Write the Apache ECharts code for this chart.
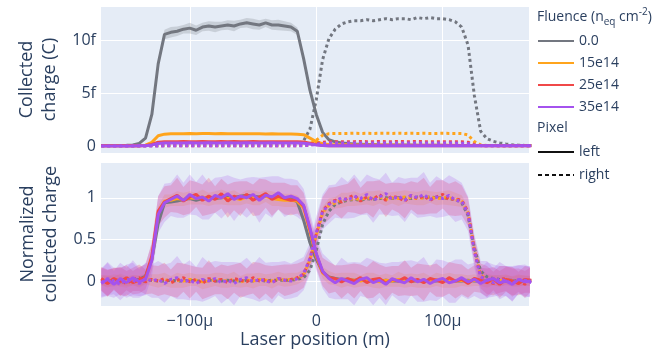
<!DOCTYPE html>
<html>
<head>
<meta charset="utf-8">
<script src="https://cdn.jsdelivr.net/npm/echarts@6/dist/echarts.min.js"></script>
<style>
  html, body { margin: 0; padding: 0; background: #fff; }
  #chart { width: 672px; height: 350px; }
</style>
</head>
<body>
<div id="chart"></div>
<script>
// laser position (um)
var xPos = [
  -170, -165, -160, -155, -150, -145, -140, -135, -130, -125,
  -120, -115, -110, -105, -100, -95, -90, -85, -80, -75,
  -70, -65, -60, -55, -50, -45, -40, -35, -30, -25,
  -20, -15, -10, -5, 0, 5, 10, 15, 20, 25,
  30, 35, 40, 45, 50, 55, 60, 65, 70, 75,
  80, 85, 90, 95, 100, 105, 110, 115, 120, 125,
  130, 135, 140, 145, 150, 155, 160, 165, 170
];

// collected charge (fC), top panel
var qGrayL = [
  0.05, 0.05, 0.06, 0.05, 0.07, 0.10, 0.25, 0.75, 3.0, 7.8,
  10.6, 10.8, 10.9, 11.1, 11.2, 11.0, 11.3, 11.4, 11.3, 11.4,
  11.5, 11.4, 11.6, 11.7, 11.6, 11.5, 11.7, 11.5, 11.5, 11.4,
  11.3, 10.9, 8.3, 5.3, 3.0, 1.3, 0.6, 0.4, 0.3, 0.25,
  0.2, 0.18, 0.15, 0.14, 0.12, 0.11, 0.1, 0.1, 0.09, 0.09,
  0.08, 0.08, 0.07, 0.07, 0.07, 0.06, 0.06, 0.06, 0.06, 0.05,
  0.05, 0.05, 0.05, 0.05, 0.05, 0.05, 0.05, 0.05, 0.05
];
var qGrayLSd = [
  0.03, 0.03, 0.03, 0.03, 0.04, 0.05, 0.1, 0.15, 0.3, 0.4,
  0.45, 0.5, 0.45, 0.4, 0.5, 0.45, 0.4, 0.45, 0.5, 0.4,
  0.45, 0.5, 0.4, 0.45, 0.5, 0.45, 0.4, 0.45, 0.5, 0.45,
  0.4, 0.35, 0.3, 0.25, 0.2, 0.1, 0.06, 0.05, 0.04, 0.04,
  0.03, 0.03, 0.03, 0.03, 0.03, 0.03, 0.03, 0.03, 0.03, 0.03,
  0.03, 0.03, 0.03, 0.03, 0.03, 0.03, 0.03, 0.03, 0.03, 0.03,
  0.03, 0.03, 0.03, 0.03, 0.03, 0.03, 0.03, 0.03, 0.03
];
var qGrayR = [
  0.05, 0.05, 0.05, 0.05, 0.05, 0.05, 0.05, 0.05, 0.05, 0.05,
  0.05, 0.05, 0.05, 0.05, 0.05, 0.05, 0.05, 0.05, 0.05, 0.05,
  0.05, 0.05, 0.06, 0.06, 0.06, 0.07, 0.07, 0.08, 0.09, 0.1,
  0.12, 0.15, 0.5, 1.6, 4.4, 8.2, 10.2, 11.1, 11.6, 11.8,
  11.9, 11.9, 12.0, 11.9, 12.0, 12.1, 12.0, 12.1, 12.1, 12.0,
  12.2, 12.1, 12.2, 12.1, 12.1, 12.0, 11.8, 11.3, 9.6, 4.8,
  1.4, 0.7, 0.45, 0.3, 0.2, 0.12, 0.08, 0.06, 0.05
];
var qOrangeL = [
  0.02, 0.02, 0.03, 0.02, 0.02, 0.03, 0.04, 0.08, 0.35, 0.98,
  1.13, 1.16, 1.17, 1.17, 1.18, 1.17, 1.18, 1.18, 1.17, 1.18,
  1.17, 1.17, 1.16, 1.17, 1.16, 1.16, 1.15, 1.16, 1.15, 1.15,
  1.14, 1.13, 1.08, 0.75, 0.42, 0.22, 0.15, 0.13, 0.12, 0.12,
  0.11, 0.11, 0.1, 0.1, 0.1, 0.09, 0.09, 0.09, 0.08, 0.08,
  0.08, 0.08, 0.07, 0.07, 0.07, 0.07, 0.07, 0.06, 0.06, 0.06,
  0.05, 0.05, 0.05, 0.05, 0.05, 0.05, 0.05, 0.05, 0.05
];
var qOrangeR = [
  0.03, 0.03, 0.03, 0.03, 0.03, 0.03, 0.03, 0.04, 0.06, 0.08,
  0.08, 0.08, 0.08, 0.08, 0.08, 0.08, 0.08, 0.08, 0.08, 0.08,
  0.08, 0.08, 0.08, 0.08, 0.08, 0.08, 0.08, 0.08, 0.08, 0.09,
  0.09, 0.1, 0.12, 0.22, 0.55, 1.02, 1.17, 1.19, 1.2, 1.2,
  1.21, 1.2, 1.21, 1.2, 1.21, 1.21, 1.2, 1.21, 1.2, 1.21,
  1.2, 1.21, 1.2, 1.2, 1.21, 1.2, 1.2, 1.19, 1.05, 0.42,
  0.12, 0.06, 0.05, 0.04, 0.04, 0.03, 0.03, 0.03, 0.03
];
var qRedL = [
  0.02, 0.02, 0.02, 0.02, 0.02, 0.02, 0.03, 0.05, 0.15, 0.36,
  0.41, 0.42, 0.42, 0.43, 0.42, 0.42, 0.43, 0.42, 0.42, 0.43,
  0.42, 0.43, 0.42, 0.42, 0.43, 0.42, 0.42, 0.42, 0.42, 0.41,
  0.41, 0.41, 0.39, 0.27, 0.14, 0.06, 0.04, 0.03, 0.03, 0.03,
  0.03, 0.03, 0.03, 0.03, 0.03, 0.03, 0.03, 0.03, 0.03, 0.03,
  0.03, 0.03, 0.03, 0.03, 0.03, 0.03, 0.03, 0.03, 0.03, 0.03,
  0.02, 0.02, 0.02, 0.02, 0.02, 0.02, 0.02, 0.02, 0.02
];
var qRedR = [
  0.02, 0.02, 0.02, 0.02, 0.02, 0.02, 0.02, 0.02, 0.02, 0.02,
  0.03, 0.03, 0.03, 0.03, 0.03, 0.03, 0.03, 0.03, 0.03, 0.03,
  0.03, 0.03, 0.03, 0.03, 0.03, 0.03, 0.03, 0.03, 0.03, 0.03,
  0.03, 0.04, 0.05, 0.1, 0.22, 0.37, 0.41, 0.42, 0.42, 0.42,
  0.42, 0.43, 0.42, 0.42, 0.43, 0.42, 0.42, 0.43, 0.42, 0.42,
  0.43, 0.42, 0.42, 0.42, 0.42, 0.42, 0.41, 0.41, 0.36, 0.15,
  0.05, 0.03, 0.02, 0.02, 0.02, 0.02, 0.02, 0.02, 0.02
];
var qPurpleL = [
  0.01, 0.01, 0.01, 0.01, 0.01, 0.01, 0.02, 0.03, 0.1, 0.25,
  0.29, 0.3, 0.3, 0.3, 0.31, 0.3, 0.3, 0.31, 0.3, 0.3,
  0.31, 0.3, 0.3, 0.31, 0.3, 0.3, 0.3, 0.31, 0.3, 0.3,
  0.3, 0.29, 0.27, 0.19, 0.1, 0.05, 0.03, 0.03, 0.03, 0.03,
  0.03, 0.03, 0.03, 0.03, 0.03, 0.03, 0.03, 0.03, 0.03, 0.03,
  0.03, 0.03, 0.03, 0.03, 0.03, 0.03, 0.03, 0.03, 0.03, 0.03,
  0.02, 0.02, 0.02, 0.02, 0.02, 0.02, 0.02, 0.02, 0.02
];
var qPurpleR = [
  0.01, 0.01, 0.01, 0.01, 0.01, 0.01, 0.01, 0.01, 0.01, 0.01,
  0.02, 0.02, 0.02, 0.02, 0.02, 0.02, 0.02, 0.02, 0.02, 0.02,
  0.02, 0.02, 0.02, 0.02, 0.02, 0.02, 0.02, 0.02, 0.02, 0.02,
  0.02, 0.03, 0.04, 0.08, 0.16, 0.25, 0.28, 0.28, 0.28, 0.28,
  0.29, 0.28, 0.28, 0.29, 0.28, 0.28, 0.29, 0.28, 0.28, 0.29,
  0.28, 0.28, 0.29, 0.28, 0.28, 0.28, 0.28, 0.27, 0.24, 0.1,
  0.04, 0.02, 0.02, 0.02, 0.02, 0.02, 0.02, 0.02, 0.02
];

// normalized collected charge, bottom panel
var nGrayL = [
  0.0, 0.01, 0.0, -0.01, 0.0, 0.01, 0.02, 0.06, 0.26, 0.69,
  0.94, 0.95, 0.96, 0.98, 0.99, 0.97, 0.99, 1.0, 0.99, 1.0,
  1.01, 1.0, 1.02, 1.03, 1.02, 1.01, 1.02, 1.01, 1.01, 1.0,
  0.99, 0.95, 0.73, 0.46, 0.26, 0.11, 0.05, 0.03, 0.02, 0.02,
  0.01, 0.01, 0.0, 0.01, 0.0, 0.01, 0.0, 0.0, 0.01, 0.0,
  0.0, 0.01, 0.0, 0.0, 0.01, 0.0, 0.0, 0.0, 0.01, 0.0,
  0.0, 0.0, 0.01, 0.0, 0.0, 0.0, 0.0, 0.0, 0.0
];
var nOrangeL = [
  0.01, -0.01, 0.02, 0.0, -0.02, 0.01, 0.0, 0.03, 0.27, 0.82,
  0.96, 0.97, 0.99, 0.98, 1.0, 0.99, 1.01, 0.98, 1.0, 1.01,
  0.99, 1.0, 0.98, 1.01, 1.0, 0.99, 1.02, 0.99, 0.98, 0.97,
  0.97, 0.96, 0.88, 0.6, 0.3, 0.1, 0.04, 0.02, 0.01, 0.02,
  0.01, 0.0, 0.02, 0.01, -0.01, 0.01, 0.0, 0.02, 0.0, 0.01,
  0.0, 0.01, -0.01, 0.02, 0.0, 0.01, 0.0, 0.01, 0.0, 0.01,
  0.0, -0.01, 0.01, 0.0, 0.02, -0.01, 0.0, 0.01, 0.0
];
var nRedL = [
  0.02, -0.03, 0.03, -0.01, 0.04, -0.02, 0.01, 0.05, 0.3, 0.84,
  0.95, 0.99, 1.03, 0.96, 1.01, 1.04, 0.97, 1.02, 0.98, 1.05,
  0.96, 1.02, 0.99, 1.04, 0.97, 1.01, 1.05, 0.98, 1.02, 0.99,
  0.97, 0.98, 0.9, 0.62, 0.32, 0.11, 0.04, 0.03, -0.01, 0.03,
  0.0, 0.04, -0.02, 0.02, 0.03, -0.03, 0.02, 0.0, 0.04, -0.01,
  0.02, -0.02, 0.03, 0.01, -0.02, 0.04, 0.0, 0.02, -0.03, 0.03,
  0.01, -0.02, 0.03, -0.04, 0.02, 0.0, -0.03, 0.02, 0.01
];
var nPurpleL = [
  -0.03, 0.02, -0.04, 0.03, -0.02, 0.04, -0.01, 0.02, 0.25, 0.8,
  0.94, 0.98, 1.02, 0.97, 1.04, 0.99, 1.01, 0.96, 1.03, 1.0,
  1.05, 0.98, 1.02, 1.0, 1.04, 0.97, 1.03, 1.01, 1.06, 1.0,
  1.02, 0.99, 0.91, 0.64, 0.33, 0.12, 0.03, -0.02, 0.03, 0.0,
  -0.03, 0.02, 0.04, -0.02, 0.01, -0.04, 0.03, 0.0, -0.02, 0.04,
  -0.01, 0.02, -0.03, 0.01, 0.03, -0.02, 0.0, 0.04, -0.01, 0.02,
  -0.03, 0.01, 0.03, -0.02, 0.0, -0.04, 0.02, -0.01, 0.0
];
var nGrayR = [
  0.0, 0.0, 0.01, 0.0, 0.0, 0.01, 0.0, 0.0, 0.01, 0.0,
  0.0, 0.01, 0.0, 0.0, 0.01, 0.0, 0.0, 0.01, 0.0, 0.0,
  0.01, 0.0, 0.0, 0.01, 0.0, 0.01, 0.0, 0.01, 0.01, 0.01,
  0.01, 0.02, 0.04, 0.13, 0.37, 0.68, 0.84, 0.92, 0.95, 0.97,
  0.98, 0.97, 0.99, 0.98, 0.99, 1.0, 0.99, 1.0, 1.0, 0.99,
  1.01, 1.0, 1.01, 1.0, 1.0, 0.99, 0.98, 0.94, 0.79, 0.4,
  0.12, 0.05, 0.03, 0.02, 0.01, 0.01, 0.0, 0.0, 0.0
];
var nOrangeR = [
  0.01, 0.0, -0.01, 0.02, 0.0, 0.01, -0.01, 0.02, 0.01, 0.0,
  0.02, -0.01, 0.01, 0.0, 0.02, 0.01, -0.01, 0.0, 0.02, 0.01,
  0.0, 0.02, -0.01, 0.01, 0.0, 0.02, 0.01, 0.0, 0.03, 0.01,
  0.02, 0.03, 0.07, 0.25, 0.55, 0.82, 0.91, 0.94, 0.97, 0.98,
  0.99, 0.98, 1.0, 0.99, 1.01, 0.98, 1.0, 0.99, 1.01, 1.0,
  0.99, 1.0, 1.01, 0.99, 1.0, 1.0, 0.98, 0.96, 0.82, 0.38,
  0.07, 0.02, 0.01, 0.0, 0.01, 0.0, 0.01, 0.0, 0.0
];
var nRedR = [
  0.03, -0.02, 0.02, 0.0, -0.03, 0.02, 0.04, -0.01, 0.02, 0.0,
  0.03, -0.02, 0.01, 0.04, -0.01, 0.02, -0.03, 0.03, 0.0, 0.02,
  -0.02, 0.03, 0.01, -0.01, 0.04, 0.0, 0.02, -0.02, 0.03, 0.01,
  0.02, 0.04, 0.08, 0.26, 0.56, 0.84, 0.93, 0.97, 0.95, 1.0,
  1.03, 0.96, 1.01, 0.98, 1.04, 0.97, 1.02, 1.0, 0.96, 1.03,
  0.99, 1.02, 0.97, 1.01, 1.04, 0.98, 0.99, 0.97, 0.83, 0.37,
  0.06, 0.01, -0.03, 0.02, 0.03, -0.02, 0.01, -0.04, 0.02
];
var nPurpleR = [
  -0.02, 0.03, 0.0, -0.04, 0.02, 0.01, -0.03, 0.03, 0.0, 0.02,
  -0.03, 0.02, 0.04, -0.01, 0.01, -0.03, 0.02, 0.0, 0.03, -0.02,
  0.01, -0.03, 0.02, 0.04, -0.01, 0.02, 0.0, -0.02, 0.03, 0.01,
  0.0, 0.03, 0.09, 0.27, 0.58, 0.83, 0.92, 0.96, 1.0, 0.97,
  1.02, 0.99, 1.04, 0.97, 1.01, 1.05, 0.98, 1.02, 0.97, 1.03,
  1.0, 1.04, 0.98, 1.01, 0.99, 1.03, 0.97, 0.96, 0.81, 0.36,
  0.05, 0.02, -0.02, 0.03, 0.0, -0.03, 0.02, 0.01, -0.02
];

// spread of normalized charge per fluence
var sdOrange = [
  0.06, 0.07, 0.06, 0.07, 0.06, 0.06, 0.07, 0.06, 0.07, 0.08,
  0.08, 0.07, 0.09, 0.08, 0.08, 0.07, 0.09, 0.08, 0.08, 0.09,
  0.08, 0.09, 0.07, 0.08, 0.09, 0.08, 0.07, 0.09, 0.08, 0.08,
  0.08, 0.07, 0.07, 0.07, 0.07, 0.07, 0.08, 0.07, 0.09, 0.08,
  0.09, 0.07, 0.08, 0.09, 0.08, 0.08, 0.07, 0.09, 0.08, 0.08,
  0.08, 0.09, 0.07, 0.08, 0.08, 0.09, 0.08, 0.07, 0.07, 0.07,
  0.06, 0.07, 0.06, 0.07, 0.06, 0.06, 0.07, 0.06, 0.06
];
var sdRed = [
  0.14, 0.16, 0.13, 0.17, 0.15, 0.14, 0.16, 0.15, 0.17, 0.18,
  0.19, 0.16, 0.21, 0.17, 0.2, 0.15, 0.19, 0.22, 0.16, 0.18,
  0.2, 0.17, 0.21, 0.16, 0.19, 0.22, 0.17, 0.2, 0.16, 0.19,
  0.18, 0.17, 0.16, 0.15, 0.16, 0.17, 0.19, 0.16, 0.2, 0.17,
  0.21, 0.16, 0.19, 0.22, 0.17, 0.2, 0.16, 0.18, 0.21, 0.17,
  0.19, 0.22, 0.16, 0.2, 0.17, 0.19, 0.21, 0.18, 0.17, 0.16,
  0.15, 0.17, 0.14, 0.16, 0.15, 0.17, 0.14, 0.16, 0.15
];
var sdPurple = [
  0.17, 0.2, 0.16, 0.19, 0.18, 0.21, 0.17, 0.19, 0.2, 0.22,
  0.23, 0.2, 0.26, 0.21, 0.24, 0.2, 0.27, 0.22, 0.21, 0.25,
  0.22, 0.26, 0.2, 0.24, 0.21, 0.27, 0.22, 0.25, 0.2, 0.23,
  0.21, 0.22, 0.2, 0.19, 0.2, 0.21, 0.23, 0.2, 0.25, 0.22,
  0.26, 0.2, 0.24, 0.27, 0.21, 0.25, 0.2, 0.23, 0.26, 0.21,
  0.24, 0.27, 0.2, 0.25, 0.22, 0.24, 0.26, 0.22, 0.21, 0.2,
  0.19, 0.22, 0.17, 0.2, 0.18, 0.21, 0.17, 0.19, 0.18
];

var fluences = ['0.0', '15e14', '25e14', '35e14'];
var pixels = ['left', 'right'];

var colors = {'0.0': '#737780', '15e14': '#ffa41c', '25e14': '#f04848', '35e14': '#a452ee'};
var bandColors = {
  '0.0': 'rgba(115,119,128,0.25)',
  '15e14': 'rgba(255,164,28,0.2)',
  '25e14': 'rgba(236,72,110,0.28)',
  '35e14': 'rgba(168,82,236,0.22)'
};
var TXT = '#2a3f5f';
var DOT = [3, 3];

function pairs(vals) {
  return xPos.map(function (x, i) { return [x, vals[i]]; });
}

function line(name, vals, grid, dotted) {
  return {
    name: name, type: 'line', xAxisIndex: grid, yAxisIndex: grid,
    data: pairs(vals), symbol: 'none', silent: true, z: 3,
    itemStyle: {color: colors[name]},
    lineStyle: {color: colors[name], width: 3, type: dotted ? DOT : 'solid'}
  };
}

// shaded spread drawn as one polygon through the axis coordinates
function band(name, vals, sd, grid) {
  var rows = xPos.map(function (x, i) { return [x, vals[i] - sd[i], vals[i] + sd[i]]; });
  return {
    type: 'custom', name: 'band-' + name, xAxisIndex: grid, yAxisIndex: grid,
    silent: true, z: 2, clip: true, data: rows,
    encode: {x: 0, y: [1, 2]},
    renderItem: function (params, api) {
      if (params.dataIndex !== 0) return null;
      var upper = [], lower = [];
      rows.forEach(function (r) {
        upper.push(api.coord([r[0], r[2]]));
        lower.unshift(api.coord([r[0], r[1]]));
      });
      return {type: 'polygon', shape: {points: upper.concat(lower)},
        style: {fill: bandColors[name]}};
    }
  };
}

var series = [
  band('0.0', qGrayL, qGrayLSd, 0),
  band('15e14', nOrangeL, sdOrange, 1),
  band('15e14', nOrangeR, sdOrange, 1),
  band('25e14', nRedL, sdRed, 1),
  band('25e14', nRedR, sdRed, 1),
  band('35e14', nPurpleL, sdPurple, 1),
  band('35e14', nPurpleR, sdPurple, 1)
];

var topVals = {'0.0': [qGrayL, qGrayR], '15e14': [qOrangeL, qOrangeR], '25e14': [qRedL, qRedR], '35e14': [qPurpleL, qPurpleR]};
var bottomVals = {'0.0': [nGrayL, nGrayR], '15e14': [nOrangeL, nOrangeR], '25e14': [nRedL, nRedR], '35e14': [nPurpleL, nPurpleR]};
fluences.forEach(function (f) {
  series.push(line(f, topVals[f][0], 0, false));
  series.push(line(f, topVals[f][1], 0, true));
});
fluences.forEach(function (f) {
  series.push(line(f, bottomVals[f][0], 1, false));
  series.push(line(f, bottomVals[f][1], 1, true));
});
// pixel legend entries
series.push({name: 'left', type: 'line', data: [], symbol: 'none', xAxisIndex: 0, yAxisIndex: 0,
  itemStyle: {color: '#111'}, lineStyle: {color: '#111', width: 3}});
series.push({name: 'right', type: 'line', data: [], symbol: 'none', xAxisIndex: 0, yAxisIndex: 0,
  itemStyle: {color: '#111'}, lineStyle: {color: '#111', width: 3, type: [4, 3]}});

function xAxis(grid, showLabels) {
  return {
    type: 'value', gridIndex: grid, min: -171, max: 169, splitNumber: 3,
    axisLine: {show: false, onZero: false}, axisTick: {show: false},
    splitLine: {show: true, lineStyle: {color: '#fff', width: 1}},
    axisLabel: {
      show: showLabels, color: TXT, fontSize: 16, margin: 7,
      showMinLabel: false, showMaxLabel: false,
      formatter: function (v) {
        if (Math.abs(v % 100) > 0.01) return '';
        if (v === 0) return '0';
        return (v < 0 ? '\u2212' + (-v) : v) + '\u03bc';
      }
    },
    name: showLabels ? 'Laser position (m)' : '',
    nameLocation: 'middle', nameGap: 25,
    nameTextStyle: {color: TXT, fontSize: 18}
  };
}

function zeroAxis(grid, min, max) {
  return {
    type: 'value', gridIndex: grid, min: min, max: max,
    axisLine: {show: true, onZero: true, lineStyle: {color: '#fff', width: 2}},
    axisTick: {show: false}, axisLabel: {show: false}, splitLine: {show: false}
  };
}

var legendBase = {
  orient: 'vertical', left: 537, padding: 0, itemWidth: 36, itemHeight: 14,
  selectedMode: false,
  itemStyle: {color: 'rgba(0,0,0,0)', borderWidth: 0, opacity: 0},
  textStyle: {color: TXT, fontSize: 14, fontFamily: 'Open Sans'}
};

var option = {
  animation: false,
  textStyle: {fontFamily: 'Open Sans'},
  grid: [
    {left: 100, right: 142, top: 6, height: 147, show: true, backgroundColor: '#e5ecf6', borderWidth: 0},
    {left: 100, right: 142, top: 162, height: 146, show: true, backgroundColor: '#e5ecf6', borderWidth: 0}
  ],
  xAxis: [xAxis(0, false), xAxis(1, true)],
  yAxis: [
    {
      type: 'value', gridIndex: 0, min: -0.66, max: 13.3, splitNumber: 3,
      axisLine: {show: false}, axisTick: {show: false},
      splitLine: {lineStyle: {color: '#fff', width: 1}},
      axisLabel: {color: TXT, fontSize: 16, margin: 4, showMinLabel: false, showMaxLabel: false,
        formatter: function (v) {
          if (Math.abs(v % 5) > 0.01) return '';
          return v === 0 ? '0' : v + 'f';
        }},
      name: 'Collected\ncharge (C)', nameLocation: 'middle', nameRotate: 90, nameGap: 36,
      nameTextStyle: {color: TXT, fontSize: 18, lineHeight: 23}
    },
    {
      type: 'value', gridIndex: 1, min: -0.30, max: 1.43, splitNumber: 3,
      axisLine: {show: false}, axisTick: {show: false},
      splitLine: {lineStyle: {color: '#fff', width: 1}},
      axisLabel: {color: TXT, fontSize: 16, margin: 4, showMinLabel: false, showMaxLabel: false,
        formatter: function (v) {
          if (Math.abs(v * 2 - Math.round(v * 2)) > 0.01) return '';
          return String(v);
        }},
      name: 'Normalized\ncollected charge', nameLocation: 'middle', nameRotate: 90, nameGap: 36,
      nameTextStyle: {color: TXT, fontSize: 18, lineHeight: 23}
    },
    zeroAxis(0, -0.66, 13.3),
    zeroAxis(1, -0.30, 1.43)
  ],
  legend: [
    Object.assign({data: fluences, top: 34, itemGap: 8}, legendBase),
    Object.assign({data: pixels, top: 145, itemGap: 9}, legendBase)
  ],
  graphic: [
    {
      type: 'text', left: 537, top: 7,
      style: {
        text: 'Fluence (n{sub|eq} cm{sup|-2})',
        fill: TXT, fontSize: 14, fontFamily: 'Open Sans', lineHeight: 20,
        rich: {
          sub: {fontSize: 10, fill: TXT, fontFamily: 'Open Sans', verticalAlign: 'bottom', lineHeight: 20},
          sup: {fontSize: 10, fill: TXT, fontFamily: 'Open Sans', verticalAlign: 'top', lineHeight: 20}
        }
      }
    },
    {
      type: 'text', left: 537, top: 121,
      style: {text: 'Pixel', fill: TXT, fontSize: 14, fontFamily: 'Open Sans'}
    }
  ],
  series: series
};

var chart = echarts.init(document.getElementById('chart'));
chart.setOption(option);
</script>
</body>
</html>
